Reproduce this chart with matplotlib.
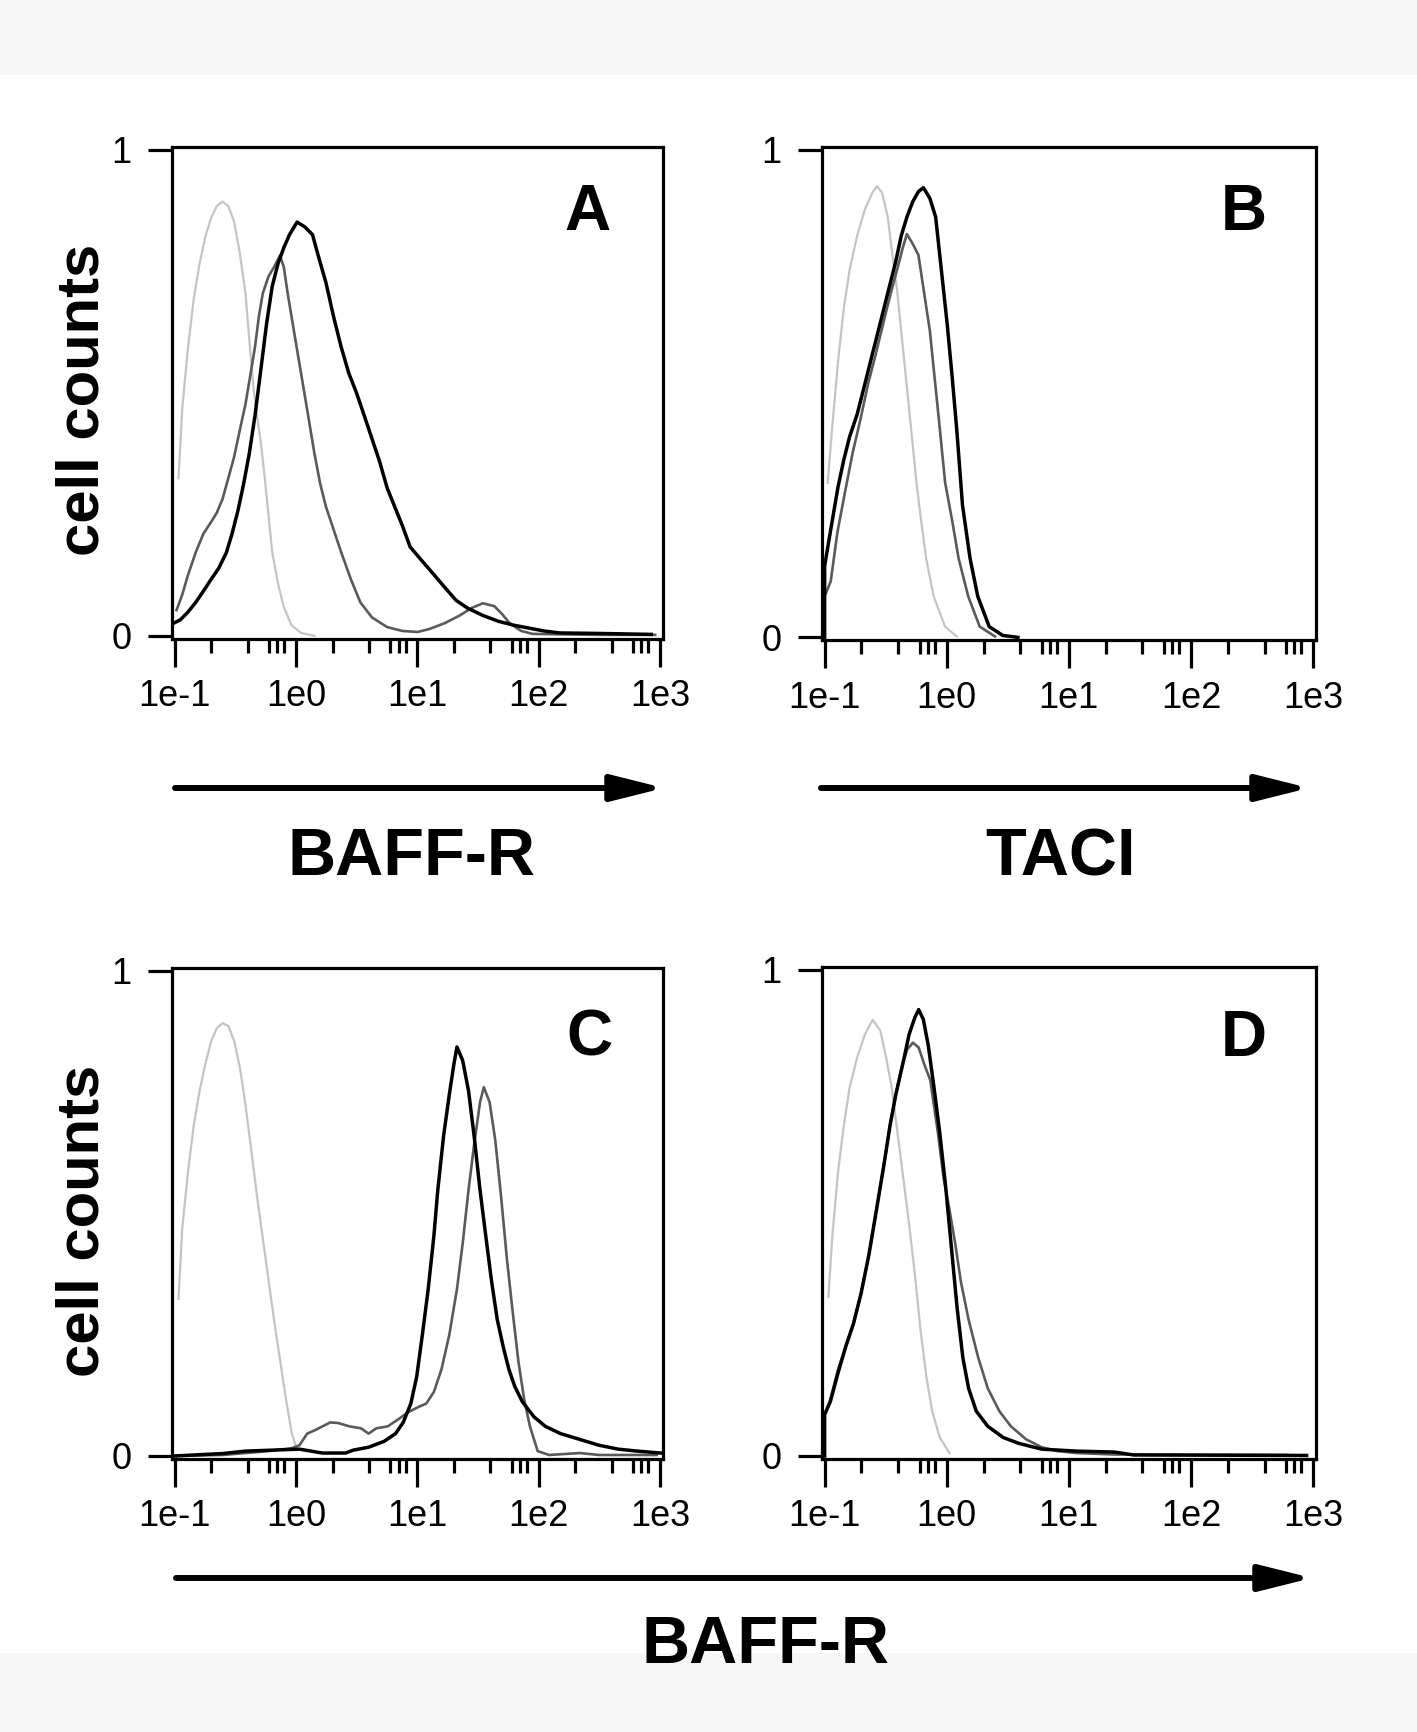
import numpy as np
import matplotlib
matplotlib.use("Agg")
import matplotlib.pyplot as plt
from matplotlib.patches import Rectangle, FancyArrowPatch
from matplotlib.ticker import FixedLocator, NullFormatter

# x values are log10 of fluorescence intensity, y values are relative cell counts
a_ctrl_x = [-0.968, -0.937, -0.890, -0.842, -0.795, -0.748, -0.700, -0.653, -0.606, -0.558, -0.511, -0.464,
            -0.416, -0.385, -0.353, -0.322, -0.290, -0.259, -0.227, -0.196, -0.148, -0.101, -0.038, 0.041, 0.151]
a_ctrl_y = [0.324, 0.468, 0.593, 0.694, 0.765, 0.820, 0.859, 0.884, 0.893, 0.884, 0.853, 0.789,
            0.704, 0.610, 0.516, 0.453, 0.398, 0.328, 0.249, 0.172, 0.107, 0.060, 0.022, 0.006, 0.0]
a_mid_x = [-0.984, -0.937, -0.890, -0.826, -0.763, -0.700, -0.653, -0.606, -0.558, -0.511, -0.464, -0.416,
           -0.369, -0.338, -0.306, -0.274, -0.227, -0.180, -0.132, -0.101, -0.069, -0.038, 0.009, 0.057,
           0.104, 0.151, 0.199, 0.246, 0.309, 0.372, 0.451, 0.530, 0.625, 0.751, 0.877, 1.003,
           1.098, 1.224, 1.350, 1.445, 1.539, 1.634, 1.697, 1.760, 1.855, 1.950, 2.486, 2.959]
a_mid_y = [0.053, 0.085, 0.125, 0.172, 0.210, 0.234, 0.253, 0.281, 0.324, 0.367, 0.422, 0.477,
           0.547, 0.594, 0.657, 0.704, 0.739, 0.759, 0.782, 0.759, 0.705, 0.658, 0.588, 0.517,
           0.447, 0.376, 0.313, 0.266, 0.219, 0.172, 0.117, 0.069, 0.038, 0.018, 0.010, 0.008,
           0.014, 0.026, 0.042, 0.057, 0.067, 0.061, 0.045, 0.026, 0.010, 0.004, 0.002, 0.002]
a_pos_x = [-1.0, -0.953, -0.890, -0.826, -0.763, -0.700, -0.637, -0.574, -0.527, -0.479, -0.432, -0.385,
           -0.338, -0.290, -0.243, -0.196, -0.148, -0.101, -0.054, 0.009, 0.073, 0.136, 0.183, 0.246,
           0.309, 0.372, 0.435, 0.498, 0.562, 0.625, 0.688, 0.751, 0.814, 0.877, 0.940, 1.035,
           1.129, 1.224, 1.319, 1.413, 1.539, 1.666, 1.792, 1.918, 2.044, 2.170, 2.486, 2.927]
a_pos_y = [0.027, 0.033, 0.049, 0.069, 0.092, 0.116, 0.139, 0.171, 0.210, 0.257, 0.312, 0.375,
           0.453, 0.547, 0.641, 0.719, 0.766, 0.798, 0.825, 0.851, 0.841, 0.825, 0.782, 0.727,
           0.657, 0.594, 0.540, 0.500, 0.453, 0.406, 0.359, 0.304, 0.265, 0.226, 0.183, 0.155,
           0.128, 0.100, 0.073, 0.057, 0.042, 0.030, 0.022, 0.016, 0.010, 0.006, 0.005, 0.003]

b_ctrl_x = [-0.975, -0.937, -0.890, -0.843, -0.796, -0.734, -0.671, -0.608, -0.571, -0.530, -0.483, -0.445,
            -0.404, -0.373, -0.342, -0.310, -0.279, -0.248, -0.210, -0.169, -0.107, -0.013, 0.081]
b_ctrl_y = [0.317, 0.434, 0.566, 0.675, 0.753, 0.823, 0.877, 0.912, 0.925, 0.912, 0.862, 0.784,
            0.706, 0.628, 0.551, 0.473, 0.395, 0.317, 0.240, 0.162, 0.084, 0.022, 0.002]
b_mid_x = [-1.0, -1.0, -0.95, -0.895, -0.83, -0.77, -0.705, -0.645, -0.58, -0.52, -0.458, -0.40, -0.36, -0.326,
           -0.279, -0.232, -0.185, -0.138, -0.107, -0.075, -0.044, -0.013, 0.044, 0.097, 0.176, 0.270, 0.395]
b_mid_y = [0.0, 0.084, 0.115, 0.216, 0.302, 0.379, 0.449, 0.519, 0.582, 0.644, 0.706, 0.760, 0.799, 0.827,
           0.807, 0.784, 0.706, 0.628, 0.551, 0.473, 0.395, 0.317, 0.240, 0.162, 0.084, 0.022, 0.002]
b_pos_x = [-1.0, -1.0, -0.969, -0.937, -0.890, -0.843, -0.796, -0.734, -0.671, -0.608, -0.545, -0.483,
           -0.420, -0.373, -0.326, -0.279, -0.232, -0.191, -0.138, -0.091, -0.044, 0.003, 0.044, 0.082,
           0.129, 0.191, 0.254, 0.348, 0.458, 0.583]
b_pos_y = [0.0, 0.146, 0.193, 0.240, 0.309, 0.364, 0.411, 0.457, 0.519, 0.582, 0.644, 0.706,
           0.768, 0.823, 0.862, 0.893, 0.914, 0.922, 0.900, 0.862, 0.753, 0.644, 0.535, 0.426,
           0.271, 0.162, 0.084, 0.022, 0.004, 0.0]

c_ctrl_x = [-0.968, -0.937, -0.889, -0.842, -0.794, -0.747, -0.699, -0.652, -0.604, -0.557, -0.509,
            -0.462, -0.415, -0.367, -0.320, -0.272, -0.225, -0.177, -0.130, -0.082, -0.035, -0.003]
c_ctrl_y = [0.324, 0.470, 0.588, 0.682, 0.753, 0.808, 0.855, 0.882, 0.892, 0.886, 0.855,
            0.800, 0.721, 0.627, 0.533, 0.446, 0.360, 0.273, 0.195, 0.116, 0.046, 0.022]
c_mid_x = [-1.0, -0.604, -0.415, -0.225, -0.035, 0.028, 0.092, 0.155, 0.218, 0.282, 0.345, 0.440,
           0.535, 0.598, 0.661, 0.756, 0.851, 0.915, 1.009, 1.073, 1.136, 1.199, 1.263, 1.326,
           1.373, 1.421, 1.468, 1.516, 1.547, 1.595, 1.642, 1.690, 1.737, 1.785, 1.832, 1.880,
           1.927, 1.991, 2.085, 2.339, 2.497, 2.972]
c_mid_y = [0.0, 0.002, 0.006, 0.010, 0.016, 0.022, 0.046, 0.053, 0.061, 0.069, 0.068, 0.061,
           0.057, 0.046, 0.057, 0.061, 0.077, 0.089, 0.101, 0.108, 0.132, 0.179, 0.250, 0.344,
           0.438, 0.548, 0.643, 0.729, 0.760, 0.729, 0.650, 0.533, 0.407, 0.297, 0.195, 0.116,
           0.061, 0.010, 0.002, 0.006, 0.002, 0.002]
c_pos_x = [-1.0, -0.604, -0.415, -0.193, 0.028, 0.218, 0.408, 0.472, 0.598, 0.725, 0.820, 0.883,
           0.946, 0.994, 1.041, 1.089, 1.136, 1.168, 1.215, 1.263, 1.301, 1.326, 1.373, 1.421,
           1.468, 1.516, 1.563, 1.611, 1.658, 1.706, 1.753, 1.801, 1.864, 1.959, 2.054, 2.180,
           2.339, 2.497, 2.655, 2.813, 3.003]
c_pos_y = [0.0, 0.005, 0.010, 0.012, 0.014, 0.006, 0.006, 0.012, 0.018, 0.030, 0.046, 0.069,
           0.108, 0.163, 0.250, 0.344, 0.454, 0.548, 0.658, 0.745, 0.808, 0.843, 0.815, 0.753,
           0.658, 0.548, 0.454, 0.360, 0.281, 0.226, 0.179, 0.144, 0.112, 0.081, 0.061, 0.046,
           0.034, 0.022, 0.014, 0.010, 0.006]

d_ctrl_x = [-0.969, -0.937, -0.890, -0.843, -0.796, -0.733, -0.670, -0.607, -0.544, -0.497,
            -0.450, -0.403, -0.355, -0.308, -0.261, -0.214, -0.167, -0.119, -0.057, 0.022]
d_ctrl_y = [0.327, 0.452, 0.585, 0.679, 0.757, 0.820, 0.867, 0.897, 0.875, 0.820,
            0.757, 0.664, 0.570, 0.476, 0.374, 0.257, 0.163, 0.092, 0.038, 0.006]
d_mid_x = [-1.0, -1.0, -0.953, -0.890, -0.827, -0.764, -0.701, -0.638, -0.575, -0.513, -0.465, -0.418,
           -0.371, -0.324, -0.277, -0.230, -0.182, -0.135, -0.072, -0.025, 0.022, 0.069, 0.116, 0.179,
           0.258, 0.336, 0.431, 0.525, 0.651, 0.777, 0.903, 1.060, 1.374, 2.789]
d_mid_y = [0.0, 0.085, 0.116, 0.178, 0.225, 0.272, 0.335, 0.413, 0.507, 0.601, 0.679, 0.742,
           0.797, 0.836, 0.850, 0.840, 0.804, 0.773, 0.664, 0.570, 0.507, 0.437, 0.358, 0.280,
           0.202, 0.139, 0.092, 0.061, 0.034, 0.018, 0.010, 0.006, 0.003, 0.002]
d_pos_x = [-1.0, -1.0, -0.953, -0.890, -0.827, -0.764, -0.701, -0.638, -0.575, -0.513, -0.465, -0.418,
           -0.355, -0.308, -0.261, -0.230, -0.192, -0.151, -0.104, -0.057, -0.009, 0.038, 0.085, 0.132,
           0.179, 0.242, 0.336, 0.462, 0.588, 0.777, 1.060, 1.374, 1.531, 2.947]
d_pos_y = [0.0, 0.085, 0.112, 0.171, 0.225, 0.272, 0.335, 0.413, 0.507, 0.601, 0.679, 0.742,
           0.812, 0.867, 0.902, 0.918, 0.898, 0.844, 0.757, 0.664, 0.554, 0.429, 0.304, 0.202,
           0.139, 0.092, 0.061, 0.038, 0.026, 0.014, 0.010, 0.008, 0.002, 0.001]

x_tick_labels = ["1e-1", "1e0", "1e1", "1e2", "1e3"]
y_tick_labels = ["0", "1"]
panel_letters = ["A", "B", "C", "D"]
marker_names = ["BAFF-R", "TACI", "BAFF-R"]

W, H = 1417, 1732
fig = plt.figure(figsize=(W / 100, H / 100), dpi=100)

# light grey bands at the top and bottom of the page
fig.patches.append(Rectangle((0, 1 - 75 / H), 1, 75 / H, transform=fig.transFigure,
                             facecolor="#f7f7f7", edgecolor="none", zorder=0))
fig.patches.append(Rectangle((0, 0), 1, 79 / H, transform=fig.transFigure,
                             facecolor="#f7f7f7", edgecolor="none", zorder=0))

fonts = ["Liberation Sans", "DejaVu Sans"]

positions = [
    [0.1211, 0.6312, 0.3465, 0.2841],
    [0.5798, 0.6303, 0.3486, 0.2850],
    [0.1211, 0.1577, 0.3465, 0.2835],
    [0.5798, 0.1577, 0.3486, 0.2841],
]
curves = [
    [(a_ctrl_x, a_ctrl_y), (a_mid_x, a_mid_y), (a_pos_x, a_pos_y)],
    [(b_ctrl_x, b_ctrl_y), (b_mid_x, b_mid_y), (b_pos_x, b_pos_y)],
    [(c_ctrl_x, c_ctrl_y), (c_mid_x, c_mid_y), (c_pos_x, c_pos_y)],
    [(d_ctrl_x, d_ctrl_y), (d_mid_x, d_mid_y), (d_pos_x, d_pos_y)],
]
styles = [("#c4c4c4", 1.6), ("#5a5a5a", 1.9), ("#000000", 2.5)]
minor_ticks = [m * 10.0 ** k for k in range(-1, 3) for m in (2, 4, 6, 7, 8)]

for pos, panel in zip(positions, curves):
    ax = fig.add_axes(pos)
    for (xs, ys), (col, lw) in zip(panel, styles):
        ax.plot(10 ** np.array(xs), ys, color=col, lw=lw)
    ax.set_xscale("log")
    ax.set_xlim(10 ** -1.025, 10 ** 3.02)
    ax.set_ylim(-0.006, 1.006)
    ax.xaxis.set_major_locator(FixedLocator([0.1, 1, 10, 100, 1000]))
    ax.xaxis.set_minor_locator(FixedLocator(minor_ticks))
    ax.xaxis.set_minor_formatter(NullFormatter())
    ax.set_xticklabels(x_tick_labels)
    ax.set_yticks([0, 1])
    ax.set_yticklabels(y_tick_labels)
    for s in ax.spines.values():
        s.set_linewidth(2.3)
    ax.tick_params(axis="x", which="major", direction="out", length=20, width=2.3, pad=9, labelsize=26)
    ax.tick_params(axis="x", which="minor", direction="out", length=10, width=2.3)
    ax.tick_params(axis="y", which="major", direction="out", length=17, width=2.3, pad=12, labelsize=26)
    for lbl in ax.get_xticklabels() + ax.get_yticklabels():
        lbl.set_family(fonts)

# panel letters
letter_xy = [(587, 230), (1244, 230), (589, 1056), (1244, 1056)]
for letter, (px, py) in zip(panel_letters, letter_xy):
    fig.text(px / W, 1 - py / H, letter, ha="center", va="baseline",
             fontsize=46, fontweight="bold", family=fonts)

# y axis titles
for py in (400, 1221):
    fig.text(83 / W, 1 - py / H, "cell counts", rotation=90, ha="center", va="center",
             fontsize=43, fontweight="bold", family=fonts)

# arrows under the x axes
arrow_spans = [(175, 664, 788), (821, 1309, 788), (176, 1312, 1578)]
for x0, x1, py in arrow_spans:
    fig.add_artist(FancyArrowPatch(
        (x0 / W, 1 - py / H), (x1 / W, 1 - py / H), transform=fig.transFigure,
        arrowstyle="-|>,head_length=2.0,head_width=0.5", mutation_scale=16,
        lw=4.3, color="black", shrinkA=0, shrinkB=0))

# marker names below the arrows
name_xy = [(411, 875), (1061, 876), (765, 1663)]
for name, (px, py) in zip(marker_names, name_xy):
    fig.text(px / W, 1 - py / H, name, ha="center", va="baseline",
             fontsize=48, fontweight="bold", family=fonts)

fig.savefig("out.png", dpi=100)
